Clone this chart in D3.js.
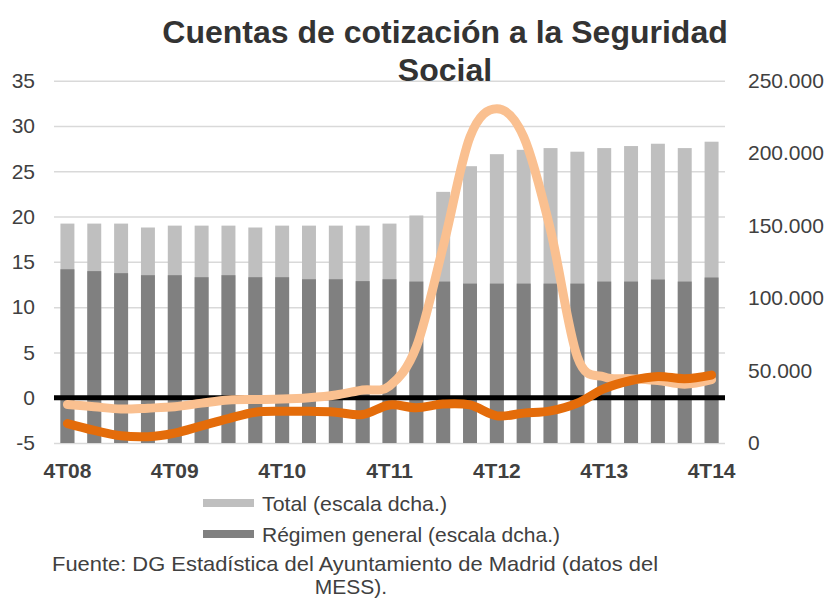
<!DOCTYPE html>
<html>
<head>
<meta charset="utf-8">
<script src="https://cdn.jsdelivr.net/npm/d3@7"></script>
<style>
  html, body { margin: 0; padding: 0; background: #fff; }
  svg { display: block; font-family: "Liberation Sans", Arial, Helvetica, sans-serif; }
</style>
</head>
<body>
<svg id="chart" width="830" height="599"></svg>
<script>
// ---- Data ----
const categories = ["4T08","1T09","2T09","3T09","4T09","1T10","2T10","3T10","4T10",
  "1T11","2T11","3T11","4T11","1T12","2T12","3T12","4T12",
  "1T13","2T13","3T13","4T13","1T14","2T14","3T14","4T14"];
const tickLabels = ["4T08","4T09","4T10","4T11","4T12","4T13","4T14"];
// Bars (right scale)
const totalValues = [151400,151400,151400,148700,150000,150000,150000,148700,150000,150000,150000,150000,151400,
  157000,173300,191000,199300,202300,203500,201000,203500,204900,206500,203500,207900];
const regimenValues = [119900,118600,117200,115800,115800,114400,115800,114400,114400,113000,113000,111700,113000,
  111400,111400,110000,110000,110000,110000,110000,111400,111400,112800,111400,114200];
// Lines (left scale, %)
const totalPct = [-0.75,-1.0,-1.25,-1.15,-1.0,-0.6,-0.25,-0.2,-0.15,0.0,0.3,0.85,1.3,
  5.6,16.7,28.8,31.9,28.8,18.5,4.5,2.3,2.1,1.9,1.5,2.0];
const regimenPct = [-2.85,-3.6,-4.2,-4.3,-3.9,-3.1,-2.3,-1.6,-1.5,-1.5,-1.6,-1.85,-0.8,
  -1.1,-0.7,-0.8,-2.0,-1.7,-1.45,-0.6,1.0,1.9,2.35,2.1,2.5];
const leftTicks = [-5,0,5,10,15,20,25,30,35];
const rightTicks = [0,50000,100000,150000,200000,250000];
const titleLines = ["Cuentas de cotización a la Seguridad", "Social"];
const legendLabels = ["Total (escala dcha.)", "Régimen general (escala dcha.)"];
const sourceLines = ["Fuente: DG Estadística del Ayuntamiento de Madrid (datos del", "MESS)."];

// ---- Layout ----
const svg = d3.select("#chart");
const plot = {left: 54, right: 725, top: 80.7, bottom: 443};

const x = d3.scaleBand().domain(categories).range([plot.left, plot.right])
  .paddingInner(0.48).paddingOuter(0.24);
const yL = d3.scaleLinear().domain([-5, 35]).range([plot.bottom, plot.top]);
const yR = d3.scaleLinear().domain([0, 250000]).range([plot.bottom, plot.top]);

const loc = d3.formatLocale({decimal: ",", thousands: ".", grouping: [3], currency: ["", ""], minus: "-"});
const fmtR = loc.format(",");
const fmtL = loc.format("d");

// gridlines
svg.append("g")
  .attr("transform", `translate(${plot.left},0)`)
  .call(d3.axisLeft(yL).tickValues(leftTicks).tickSize(-(plot.right - plot.left)).tickFormat(""))
  .call(g => g.select(".domain").remove())
  .call(g => g.selectAll("line").attr("stroke", "#D9D9D9").attr("stroke-width", 1.5));

// bars
svg.append("g").selectAll("rect").data(categories).join("rect")
  .attr("x", d => x(d)).attr("width", x.bandwidth())
  .attr("y", (d, i) => yR(totalValues[i]))
  .attr("height", (d, i) => yR(0) - yR(totalValues[i]))
  .attr("fill", "#BFBFBF");
svg.append("g").selectAll("rect").data(categories).join("rect")
  .attr("x", d => x(d)).attr("width", x.bandwidth())
  .attr("y", (d, i) => yR(regimenValues[i]))
  .attr("height", (d, i) => yR(0) - yR(regimenValues[i]))
  .attr("fill", "#808080");

// zero line
svg.append("line")
  .attr("x1", plot.left).attr("x2", plot.right)
  .attr("y1", yL(0)).attr("y2", yL(0))
  .attr("stroke", "#000").attr("stroke-width", 5);

// lines
const line = vals => d3.line()
  .x((d, i) => x(categories[i]) + x.bandwidth() / 2)
  .y(d => yL(d))
  .curve(d3.curveCatmullRom.alpha(0))(vals);
svg.append("path").attr("d", line(totalPct))
  .attr("fill", "none").attr("stroke", "#FAC090").attr("stroke-width", 9)
  .attr("stroke-linecap", "round").attr("stroke-linejoin", "round");
svg.append("path").attr("d", line(regimenPct))
  .attr("fill", "none").attr("stroke", "#E46C0A").attr("stroke-width", 9)
  .attr("stroke-linecap", "round").attr("stroke-linejoin", "round");

// left axis
svg.append("g")
  .attr("transform", `translate(${plot.left},0)`)
  .call(d3.axisLeft(yL).tickValues(leftTicks).tickSize(0).tickPadding(19).tickFormat(fmtL))
  .call(g => g.select(".domain").remove())
  .call(g => g.selectAll("text").attr("fill", "#404040").style("font-size", "21px")
    .style("font-family", "'Liberation Sans', Arial, sans-serif"));

// right axis
svg.append("g")
  .attr("transform", `translate(${plot.right},0)`)
  .call(d3.axisRight(yR).tickValues(rightTicks).tickSize(0).tickPadding(23).tickFormat(fmtR))
  .call(g => g.select(".domain").remove())
  .call(g => g.selectAll("text").attr("fill", "#404040").style("font-size", "21px")
    .style("font-family", "'Liberation Sans', Arial, sans-serif"));

// bottom axis
svg.append("g")
  .attr("transform", `translate(0,${plot.bottom})`)
  .call(d3.axisBottom(x).tickValues(tickLabels).tickSize(0).tickPadding(20))
  .call(g => g.select(".domain").remove())
  .call(g => g.selectAll("text").attr("fill", "#404040").style("font-size", "21px")
    .style("font-weight", "bold").style("font-family", "'Liberation Sans', Arial, sans-serif"));

// title
svg.append("g").selectAll("text").data(titleLines).join("text")
  .attr("x", 445).attr("y", (d, i) => 43 + i * 38)
  .attr("text-anchor", "middle")
  .attr("fill", "#333333")
  .style("font-size", "32px").style("font-weight", "bold")
  .text(d => d);

// legend
const legColors = ["#BFBFBF", "#808080"];
const leg = svg.append("g");
leg.selectAll("rect").data(legendLabels).join("rect")
  .attr("x", 203).attr("y", (d, i) => 499 + i * 31)
  .attr("width", 51).attr("height", 8)
  .attr("fill", (d, i) => legColors[i]);
leg.selectAll("text").data(legendLabels).join("text")
  .attr("x", 262).attr("y", (d, i) => 511 + i * 31)
  .attr("fill", "#404040")
  .style("font-size", "21px")
  .attr("textLength", (d, i) => [185, 298][i])
  .attr("lengthAdjust", "spacingAndGlyphs")
  .text(d => d);

// source
svg.append("g").selectAll("text").data(sourceLines).join("text")
  .attr("x", (d, i) => i === 0 ? 52 : 351)
  .attr("y", (d, i) => 571 + i * 23)
  .attr("text-anchor", (d, i) => i === 0 ? "start" : "middle")
  .attr("fill", "#404040")
  .style("font-size", "21px")
  .attr("textLength", (d, i) => i === 0 ? 606 : null)
  .attr("lengthAdjust", "spacingAndGlyphs")
  .text(d => d);
</script>
</body>
</html>
